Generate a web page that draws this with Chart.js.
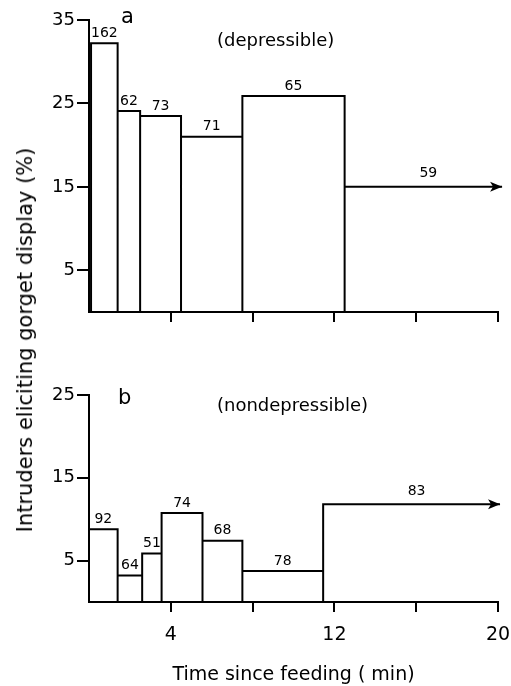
<!DOCTYPE html>
<html>
<head>
<meta charset="utf-8">
<script src="https://cdn.jsdelivr.net/npm/chart.js@4.4.0/dist/chart.umd.min.js"></script>
<style>
body { margin: 0; background: #fff; }
#wrap { position: relative; width: 511px; height: 686px; overflow: hidden; }
#topChart { position: absolute; left: 0; top: 0; }
#botChart { position: absolute; left: 0; top: 340px; }
#yTitle {
  position: absolute; left: 25px; top: 340px;
  transform: translate(-50%, -50%) rotate(-90deg);
  white-space: nowrap; font: 21px "DejaVu Sans", sans-serif; color: #000;
}
</style>
</head>
<body>
<div id="wrap">
  <canvas id="topChart" width="511" height="340"></canvas>
  <canvas id="botChart" width="511" height="346"></canvas>
  <div id="yTitle">Intruders eliciting gorget display (%)</div>
</div>
<script>
// panel a (depressible)
var edgesA = [0.1, 1.4, 2.5, 4.5, 7.5, 12.5];
var heightsA = [32.2, 24.1, 23.5, 21.0, 25.9];
var countsA = [162, 62, 73, 71, 65, 59];
var arrowA = 15.0;      // last open-ended bin
var arrowEndA = 20.2;

// panel b (nondepressible)
var edgesB = [0, 1.4, 2.6, 3.55, 5.55, 7.5, 11.45];
var heightsB = [8.8, 3.2, 5.85, 10.75, 7.4, 3.75];
var countsB = [92, 64, 51, 74, 68, 78, 83];
var arrowB = 11.8;
var arrowEndB = 20.1;

var xTicks = [4, 8, 12, 16, 20];
var xTickLabels = [4, 12, 20];
var yTicksA = [5, 15, 25, 35];
var yTicksB = [5, 15, 25];

var FONT = '"DejaVu Sans", sans-serif';

// trace the outline of the bars plus the open bin line
function outline(edges, heights, arrowY, arrowEnd) {
  var pts = [];
  for (var i = 0; i < heights.length; i++) {
    pts.push({x: edges[i], y: 0});
    pts.push({x: edges[i], y: heights[i]});
    pts.push({x: edges[i + 1], y: heights[i]});
    pts.push({x: edges[i + 1], y: 0});
  }
  var last = edges[edges.length - 1];
  pts.push({x: last, y: arrowY});
  pts.push({x: arrowEnd, y: arrowY});
  return pts;
}

var panelPlugin = {
  id: 'panel',
  afterDatasetsDraw: function(chart, args, opts) {
    var ctx = chart.ctx;
    var xs = chart.scales.x, ys = chart.scales.y;
    ctx.save();
    ctx.fillStyle = '#000';
    // arrow head
    var tx = xs.getPixelForValue(opts.arrowEnd);
    var ty = ys.getPixelForValue(opts.arrowY);
    ctx.beginPath();
    ctx.moveTo(tx, ty);
    ctx.lineTo(tx - 12, ty - 5);
    ctx.lineTo(tx - 9, ty);
    ctx.lineTo(tx - 12, ty + 5);
    ctx.closePath();
    ctx.fill();
    // counts above bins
    ctx.font = '14px ' + FONT;
    ctx.textAlign = 'center';
    ctx.textBaseline = 'bottom';
    for (var i = 0; i < opts.counts.length; i++) {
      var x0 = opts.edges[i];
      var x1, h;
      if (i < opts.heights.length) { x1 = opts.edges[i + 1]; h = opts.heights[i]; }
      else { x1 = opts.arrowEnd; h = opts.arrowY; }
      var px = xs.getPixelForValue((x0 + x1) / 2);
      var py = ys.getPixelForValue(h) - 3;
      if (i >= opts.heights.length) { py -= 3; px += 5; }
      ctx.fillText(String(opts.counts[i]), px, py);
    }
    // panel letter and subtitle
    ctx.textAlign = 'left';
    ctx.textBaseline = 'middle';
    ctx.font = '21px ' + FONT;
    ctx.fillText(opts.letter, opts.letterX, opts.letterY);
    ctx.font = '18px ' + FONT;
    ctx.fillText(opts.sub, 217, opts.subY);
    ctx.restore();
  }
};

function makeChart(id, cfg) {
  return new Chart(document.getElementById(id), {
    type: 'scatter',
    data: {
      datasets: [{
        data: outline(cfg.edges, cfg.heights, cfg.arrowY, cfg.arrowEnd),
        showLine: true,
        borderColor: '#000',
        borderWidth: 2,
        pointRadius: 0,
        tension: 0,
        clip: false
      }]
    },
    options: {
      responsive: false,
      animation: false,
      events: [],
      layout: { padding: { left: 0, right: 13, top: cfg.padTop, bottom: 0 } },
      plugins: {
        legend: { display: false },
        tooltip: { enabled: false },
        panel: cfg
      },
      scales: {
        x: {
          type: 'linear', min: 0, max: 20,
          afterBuildTicks: function(s) { s.ticks = xTicks.map(function(v) { return {value: v}; }); },
          afterFit: function(s) { s.height = cfg.xHeight; s.paddingLeft = 0; s.paddingRight = 0; },
          grid: { drawOnChartArea: false, color: '#000', lineWidth: 2, tickLength: 10 },
          border: { display: true, color: '#000', width: 2 },
          ticks: {
            color: '#000', padding: 12, maxRotation: 0, autoSkip: false,
            font: { family: FONT, size: 19 },
            callback: function(v) { return cfg.showX && xTickLabels.indexOf(v) >= 0 ? String(v) : ''; }
          },
          title: cfg.showX ? {
            display: true, text: 'Time since feeding ( min)', color: '#000',
            font: { family: FONT, size: 19 }, padding: { top: 0, bottom: 0 }
          } : { display: false }
        },
        y: {
          type: 'linear', min: 0, max: cfg.yMax,
          afterBuildTicks: function(s) { s.ticks = cfg.yTicks.map(function(v) { return {value: v}; }); },
          afterFit: function(s) { s.width = 89; },
          grid: { drawOnChartArea: false, color: '#000', lineWidth: 2, tickLength: 12 },
          border: { display: true, color: '#000', width: 2 },
          ticks: { color: '#000', padding: 2, font: { family: FONT, size: 18 } }
        }
      }
    },
    plugins: [panelPlugin]
  });
}

makeChart('topChart', {
  edges: edgesA, heights: heightsA, counts: countsA, arrowY: arrowA, arrowEnd: arrowEndA,
  yMax: 35, yTicks: yTicksA, padTop: 20, xHeight: 28, showX: false,
  letter: 'a', letterX: 121, letterY: 18, sub: '(depressible)', subY: 41
});

makeChart('botChart', {
  edges: edgesB, heights: heightsB, counts: countsB, arrowY: arrowB, arrowEnd: arrowEndB,
  yMax: 25, yTicks: yTicksB, padTop: 55, xHeight: 84, showX: true,
  letter: 'b', letterX: 118, letterY: 59, sub: '(nondepressible)', subY: 66
});
</script>
</body>
</html>
